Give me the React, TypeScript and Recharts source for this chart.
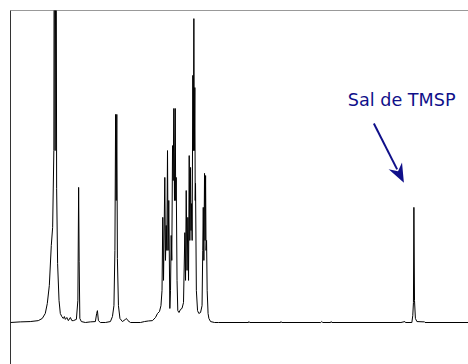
import { Line, LineChart, ReferenceLine, XAxis, YAxis } from 'recharts'

// 1H NMR spectrum, shift in ppm (TMSP = 0), intensity in % of full scale
const baselineLeft: [number, number][] = [
  [5.37, 0], [5.24, 0.2], [5.107, 0.3], [5.0, 0.6], [4.947, 1.3], [4.907, 2.9],
]

const waterPeak: [number, number][] = [
  [4.88, 6.1], [4.853, 11.9], [4.827, 24.7], [4.809, 30.5], [4.793, 55.1], [4.787, 160],
  [4.776, 55.1], [4.764, 160], [4.756, 43.0], [4.743, 18.9], [4.724, 7.1], [4.707, 2.9],
]

const smallBumps: [number, number][] = [
  [4.687, 1.9], [4.667, 1.3], [4.653, 1.9], [4.64, 1.0], [4.62, 1.6], [4.6, 0.6],
  [4.573, 1.6], [4.553, 0.6], [4.533, 0.6], [4.493, 1.0],
  [4.473, 7.1], [4.463, 43.3], [4.456, 19.6], [4.447, 1.3], [4.427, 0.3], [4.373, 0],
  [4.307, 0.2], [4.24, 0.3], [4.223, 2.9], [4.213, 3.8], [4.2, 0.6], [4.173, 0],
]

const doublet4ppm: [number, number][] = [
  [4.107, 0], [4.04, 0.3], [4.013, 1.9], [3.993, 5.4], [3.98, 23.1], [3.971, 66.7],
  [3.963, 39.1], [3.955, 66.7], [3.947, 20.5], [3.933, 5.4], [3.913, 1.3], [3.88, 0.3],
  [3.84, 1.0], [3.827, 1.3], [3.807, 0.6], [3.773, 0],
  [3.64, 0], [3.587, 0.3], [3.533, 0.5], [3.48, 0.6], [3.44, 1.6], [3.413, 2.9], [3.387, 3.5],
]

const clusterA: [number, number][] = [
  [3.367, 5.4], [3.353, 10.3], [3.343, 33.7], [3.333, 13.5], [3.316, 46.5], [3.307, 19.9],
  [3.297, 31.1], [3.289, 23.1], [3.28, 55.1], [3.272, 23.1], [3.263, 39.1], [3.249, 4.5],
  [3.24, 10.3], [3.231, 27.9], [3.223, 19.9], [3.213, 56.7], [3.204, 45.5], [3.196, 68.6],
  [3.187, 39.1], [3.177, 68.6], [3.171, 39.1], [3.164, 46.5], [3.153, 13.5], [3.143, 3.8],
  [3.127, 3.2], [3.107, 4.2], [3.087, 4.5],
]

const clusterB: [number, number][] = [
  [3.067, 6.4], [3.049, 28.8], [3.04, 13.5], [3.031, 42.3], [3.02, 16.7], [3.009, 33.7],
  [3.0, 13.5], [2.991, 53.5], [2.983, 26.3], [2.973, 49.7], [2.967, 29.5], [2.96, 38.1],
  [2.952, 26.3], [2.943, 79.2], [2.936, 55.1], [2.929, 97.4], [2.923, 55.1], [2.916, 75.3],
  [2.911, 39.1], [2.907, 44.6], [2.896, 10.3], [2.88, 3.8], [2.863, 2.9], [2.84, 3.2],
]

const clusterC: [number, number][] = [
  [2.82, 5.4], [2.811, 23.1], [2.804, 36.9], [2.796, 19.9], [2.787, 47.8], [2.78, 26.3],
  [2.773, 47.1], [2.767, 23.1], [2.76, 26.3], [2.752, 10.3], [2.74, 2.9], [2.729, 1.3],
  [2.707, 0.3], [2.653, 0],
]

const baselineRight: [number, number][] = [
  [2.6, 0], [2.2, 0], [2.196, 0.3], [2.187, 0], [1.773, 0], [1.769, 0.3], [1.76, 0],
  [1.24, 0], [1.227, 0.3], [1.213, 0], [1.107, 0], [1.101, 0.3], [1.093, 0],
  [0.173, 0], [0.12, 0.3], [0.113, 0],
]

const tmspPeak: [number, number][] = [
  [0.027, 0], [0.015, 2.2], [0.006, 6.4], [0, 36.9], [-0.008, 7.1], [-0.02, 1.3],
  [-0.04, 0.3], [-0.133, 0.2], [-0.137, 0.3], [-0.147, 0], [-0.8, 0],
]

const spectrum = [
  ...baselineLeft, ...waterPeak, ...smallBumps, ...doublet4ppm,
  ...clusterA, ...clusterB, ...clusterC, ...baselineRight, ...tmspPeak,
].map(([ppm, intensity]) => ({ ppm, intensity }))

const arrowFrom = { x: 0.533, y: 63.8 }
const arrowTo = { x: 0.133, y: 44.8 }
const annotation = 'Sal de TMSP'
const navy = '#10108a'

function Arrow(props: any) {
  const { x1, y1, x2, y2 } = props
  const ang = Math.atan2(y2 - y1, x2 - x1)
  const cos = Math.cos(ang)
  const sin = Math.sin(ang)
  const len = 19
  const half = 7.5
  const bx = x2 - len * cos
  const by = y2 - len * sin
  const px = -sin * half
  const py = cos * half
  return (
    <g>
      <line x1={x1} y1={y1} x2={bx + 4 * cos} y2={by + 4 * sin} stroke={navy} strokeWidth={2} />
      <polygon
        points={`${x2},${y2} ${bx + px},${by + py} ${bx + 6 * cos},${by + 6 * sin} ${bx - px},${by - py}`}
        fill={navy}
      />
      <text x={x1 - 26} y={y1 - 17} fill={navy} fontSize={17.6} fontFamily="DejaVu Sans">
        {annotation}
      </text>
    </g>
  )
}

export default function App() {
  return (
    <div style={{ position: 'fixed', left: 0, top: 0, width: 468, height: 364, overflow: 'hidden', background: '#fff' }}>
      <LineChart width={474} height={364} data={spectrum} margin={{ top: 10.5, right: 0, left: 10.5, bottom: 0 }}>
        <XAxis dataKey="ppm" type="number" domain={[-0.8, 5.37]} reversed allowDataOverflow hide />
        <YAxis type="number" domain={[-13.3, 100]} allowDataOverflow hide />
        <ReferenceLine y={100} stroke="#999" strokeWidth={1} />
        <ReferenceLine x={5.37} stroke="#333" strokeWidth={1} />
        <Line
          dataKey="intensity"
          type="linear"
          stroke="#000"
          strokeWidth={1}
          dot={false}
          isAnimationActive={false}
        />
        <ReferenceLine segment={[arrowFrom, arrowTo]} shape={Arrow} />
      </LineChart>
    </div>
  )
}
